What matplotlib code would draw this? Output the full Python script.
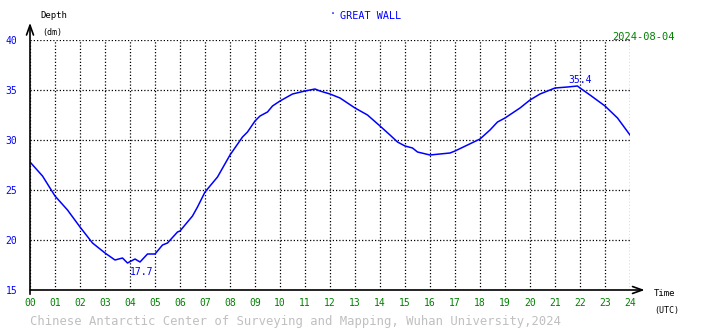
import matplotlib
matplotlib.use("Agg")
import matplotlib.pyplot as plt

# tide readings (hour UTC, depth in dm)
hours = [0.0, 0.5, 1.0, 1.5, 2.0, 2.5, 3.0, 3.4, 3.7, 3.9, 4.2, 4.4, 4.7, 5.0,
         5.3, 5.5, 5.9, 6.0, 6.5, 6.7, 7.0, 7.5, 8.0, 8.5, 8.7, 9.0, 9.2, 9.5,
         9.7, 10.0, 10.5, 11.0, 11.4, 11.6, 12.0, 12.4, 13.0, 13.5, 14.0, 14.4,
         14.7, 15.0, 15.3, 15.5, 16.0, 16.4, 16.8, 17.0, 17.5, 18.0, 18.4, 18.7,
         19.0, 19.6, 20.0, 20.4, 21.0, 21.5, 21.9, 22.0, 22.4, 23.0, 23.5, 24.0]
depth = [27.8, 26.4, 24.4, 23.0, 21.3, 19.7, 18.7, 18.0, 18.2, 17.7, 18.1, 17.8, 18.6, 18.6,
         19.5, 19.7, 20.8, 20.9, 22.4, 23.3, 24.8, 26.3, 28.5, 30.3, 30.8, 31.9, 32.4, 32.8,
         33.4, 33.9, 34.6, 34.9, 35.1, 34.9, 34.6, 34.2, 33.2, 32.5, 31.4, 30.5,
         29.8, 29.4, 29.2, 28.8, 28.5, 28.6, 28.7, 28.9, 29.5, 30.1, 31.0, 31.8,
         32.2, 33.2, 34.0, 34.6, 35.2, 35.3, 35.4, 35.2, 34.5, 33.4, 32.2, 30.5]

x_ticks = list(range(25))
x_labels = ["%02d" % h for h in x_ticks]
y_ticks = [15, 20, 25, 30, 35, 40]

low = (3.9, 17.7)
high = (21.9, 35.4)

station = "GREAT WALL"
date = "2024-08-04"
footer = "Chinese Antarctic Center of Surveying and Mapping, Wuhan University,2024"

mono = "DejaVu Sans Mono"
blue = "#0000ff"
green = "#008000"

fig = plt.figure(figsize=(7.1, 3.28), dpi=100)
ax = fig.add_axes([30 / 710, 38 / 328, 600 / 710, 250 / 328])
ax.set_xlim(0, 24)
ax.set_ylim(15, 40)
for s in ax.spines.values():
    s.set_visible(False)

ax.set_xticks(x_ticks, x_labels)
ax.set_yticks(y_ticks, [str(v) for v in y_ticks])
ax.tick_params(axis="x", length=0, pad=6, labelcolor=green, labelsize=7)
ax.tick_params(axis="y", length=0, pad=9, labelcolor=blue, labelsize=7)
for lab in ax.get_xticklabels() + ax.get_yticklabels():
    lab.set_family(mono)
ax.grid(True, color="black", linestyle=(0, (1, 1.6)), linewidth=0.9)

ax.plot(hours, depth, color=blue, linewidth=1.1)

# axes with arrows
ax.annotate("", xy=(0, 42.0), xytext=(0, 14.3), annotation_clip=False,
            arrowprops=dict(arrowstyle="->,head_length=0.7,head_width=0.25", color="black", lw=1.2))
ax.annotate("", xy=(24.7, 15), xytext=(-0.1, 15), annotation_clip=False,
            arrowprops=dict(arrowstyle="->,head_length=0.7,head_width=0.25", color="black", lw=1.2))

ax.text(low[0] + 0.55, low[1] - 0.4, "%.1f" % low[1], color=blue, fontsize=7,
        family=mono, ha="center", va="top")
ax.text(high[0] + 0.1, high[1] + 0.1, "%.1f" % high[1], color=blue, fontsize=7,
        family=mono, ha="center", va="bottom")

fig.text(40 / 710, 1 - 16 / 328, "Depth", fontsize=6.5, family=mono, va="center")
fig.text(42 / 710, 1 - 33 / 328, "(dm)", fontsize=6, family=mono, va="center")
fig.text(330 / 710, 1 - 14 / 328, "·", fontsize=7, family=mono, color=blue, va="center")
fig.text(340 / 710, 1 - 16 / 328, station, fontsize=7.3, family=mono, color=blue, va="center")
fig.text(612 / 710, 1 - 37 / 328, date, fontsize=7.5, family=mono, color=green, va="center")
fig.text(654 / 710, 1 - 294 / 328, "Time", fontsize=6.5, family=mono, va="center")
fig.text(654 / 710, 1 - 310 / 328, "(UTC)", fontsize=6, family=mono, va="center")
fig.text(30 / 710, 1 - 321 / 328, footer, fontsize=8.8, family=mono, color="#c0c0c0", va="center")

fig.savefig("out.png", dpi=100, facecolor="white")
